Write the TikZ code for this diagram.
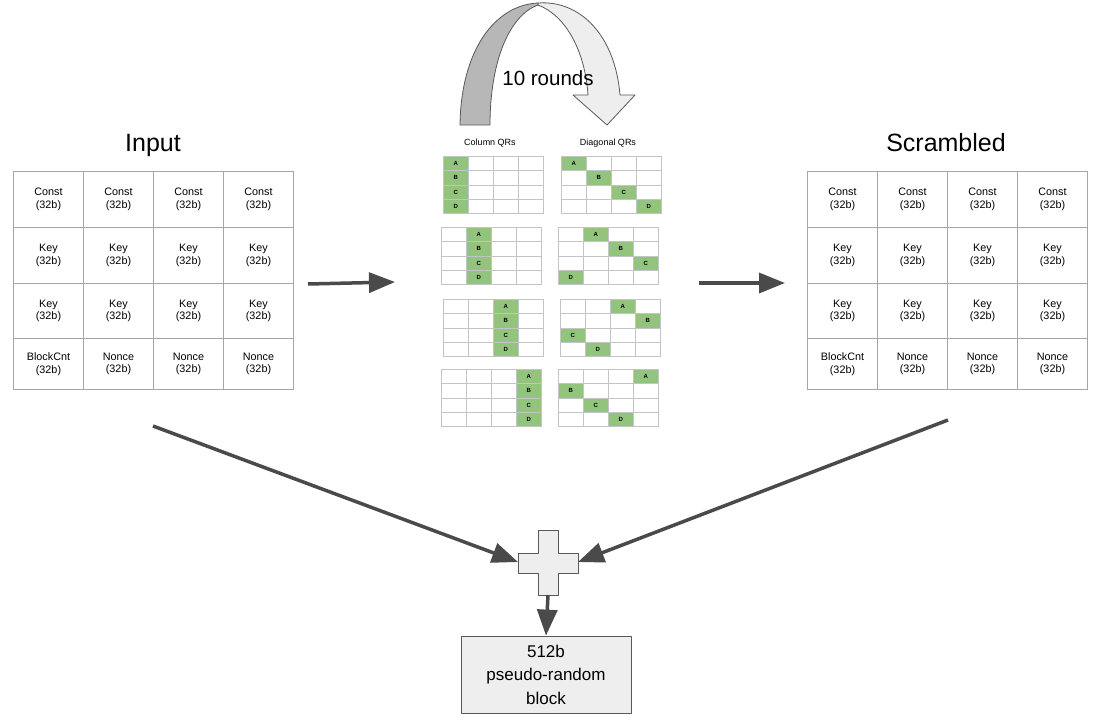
\documentclass[tikz,border=0pt]{standalone}
\usepackage{fontspec}
\setmainfont{Liberation Sans}
\usetikzlibrary{arrows.meta}
\definecolor{gridgray}{HTML}{A6A6A6}
\definecolor{qrgray}{HTML}{C4C4C4}
\definecolor{qrgreen}{HTML}{93C47D}
\definecolor{arrowgray}{HTML}{4A4A4A}
\definecolor{lightfill}{HTML}{EEEEEE}
\definecolor{darkband}{HTML}{B7B7B7}
\definecolor{edgegray}{HTML}{595959}
\begin{document}
\begin{tikzpicture}[x=1pt,y=-1pt,
  cell/.style={draw=gridgray, line width=1pt, minimum width=70pt, inner sep=0pt, align=center, font=\fontsize{10.8}{12.5}\selectfont, anchor=north west},
  qcell/.style={draw=qrgray, line width=0.8pt, minimum width=25pt, minimum height=14.25pt, inner sep=0pt, anchor=north west, font=\fontsize{6}{6}\selectfont\bfseries},
  gcell/.style={qcell, fill=qrgreen},
  title/.style={font=\fontsize{25}{30}\selectfont},
  qtitle/.style={font=\fontsize{9}{10}\selectfont},
  conn/.style={draw=arrowgray, line width=3.5pt, -{Triangle[length=26pt,width=20pt]}},
  shapeline/.style={draw=edgegray, line width=0.8pt, line join=round}
]
\useasboundingbox (0,0) rectangle (1096,728);

% titles
\node[title] (intitle) at (153,145) {Input};
\node[title] (sctitle) at (946,143) {Scrambled};

% state grids
\foreach \g/\gx in {in/13, sc/807} {
  \foreach \c in {0,...,3} {
    \pgfmathsetmacro\xx{\gx+70*\c}
    \node[cell, minimum height=56pt] (\g-1-\c) at (\xx,171) {Const\\(32b)};
    \node[cell, minimum height=56pt] (\g-2-\c) at (\xx,227) {Key\\(32b)};
    \node[cell, minimum height=55pt] (\g-3-\c) at (\xx,283) {Key\\(32b)};
    \node[cell, minimum height=51pt] (\g-4-\c) at (\xx,338) {\ifnum\c=0 BlockCnt\else Nonce\fi\\(32b)};
  }
}

% QR titles
\node[qtitle] (coltitle) at (490,143) {Column QRs};
\node[qtitle] (diagtitle) at (608,143) {Diagonal QRs};

% QR grids
\foreach \k/\top/\cl/\dl in {0/156/443/561, 1/227/441/558, 2/299/443/560, 3/369/441/558} {
  \foreach \i in {0,...,3} {
    \foreach \j in {0,...,3} {
      \node[qcell] (c\k-\i-\j) at ({\cl+25*\i},{\top+14.25*\j}) {};
      \node[qcell] (d\k-\i-\j) at ({\dl+25*\i},{\top+14.25*\j}) {};
    }
  }
  \foreach \j/\L in {0/A,1/B,2/C,3/D} {
    \pgfmathtruncatemacro\dc{mod(\j+\k,4)}
    \node[gcell] (cg\k-\j) at ({\cl+25*\k},{\top+14.25*\j}) {\L};
    \node[gcell] (dg\k-\j) at ({\dl+25*\dc},{\top+14.25*\j}) {\L};
  }
}

% curved "10 rounds" arrow
\draw[shapeline, fill=lightfill] (538,3) .. controls (580,0) and (615,35) .. (620,95)
  -- (635,95) -- (607,125) -- (573,95) -- (588,95)
  .. controls (585,50) and (565,15) .. (538,5) -- cycle;
\draw[shapeline, fill=darkband] (460,125) .. controls (461,50) and (495,5) .. (538,3)
  -- (538,5) .. controls (510,15) and (490,60) .. (490,125) -- cycle;
\node[font=\fontsize{20.5}{24}\selectfont] (rounds) at (548,78) {10 rounds};

% horizontal arrows
\coordinate (a1s) at (308,284); \coordinate (a1e) at (395,282);
\coordinate (a2s) at (699,283); \coordinate (a2e) at (785,283);
\draw[conn] (a1s) -- (a1e);
\draw[conn] (a2s) -- (a2e);

% plus sign
\draw[shapeline, fill=lightfill] (538,530) -- (558,530) -- (558,553) -- (578,553) -- (578,573)
  -- (558,573) -- (558,595) -- (538,595) -- (538,573) -- (518,573) -- (518,553) -- (538,553) -- cycle;
\coordinate (plusL) at (518,562);
\coordinate (plusR) at (578,562);
\coordinate (plusB) at (548,595);

% output block
\node[shapeline, fill=lightfill, minimum width=170pt, minimum height=77pt, align=center,
  font=\fontsize{17}{23.5}\selectfont] (out) at (546,674.5) {512b\\pseudo-random\\block};

% converging arrows
\coordinate (b1s) at (153,426);
\coordinate (b2s) at (948,420);
\draw[conn] (b1s) -- (plusL);
\draw[conn] (b2s) -- (plusR);
\draw[conn] (plusB) -- (out.north);
\end{tikzpicture}
\end{document}
